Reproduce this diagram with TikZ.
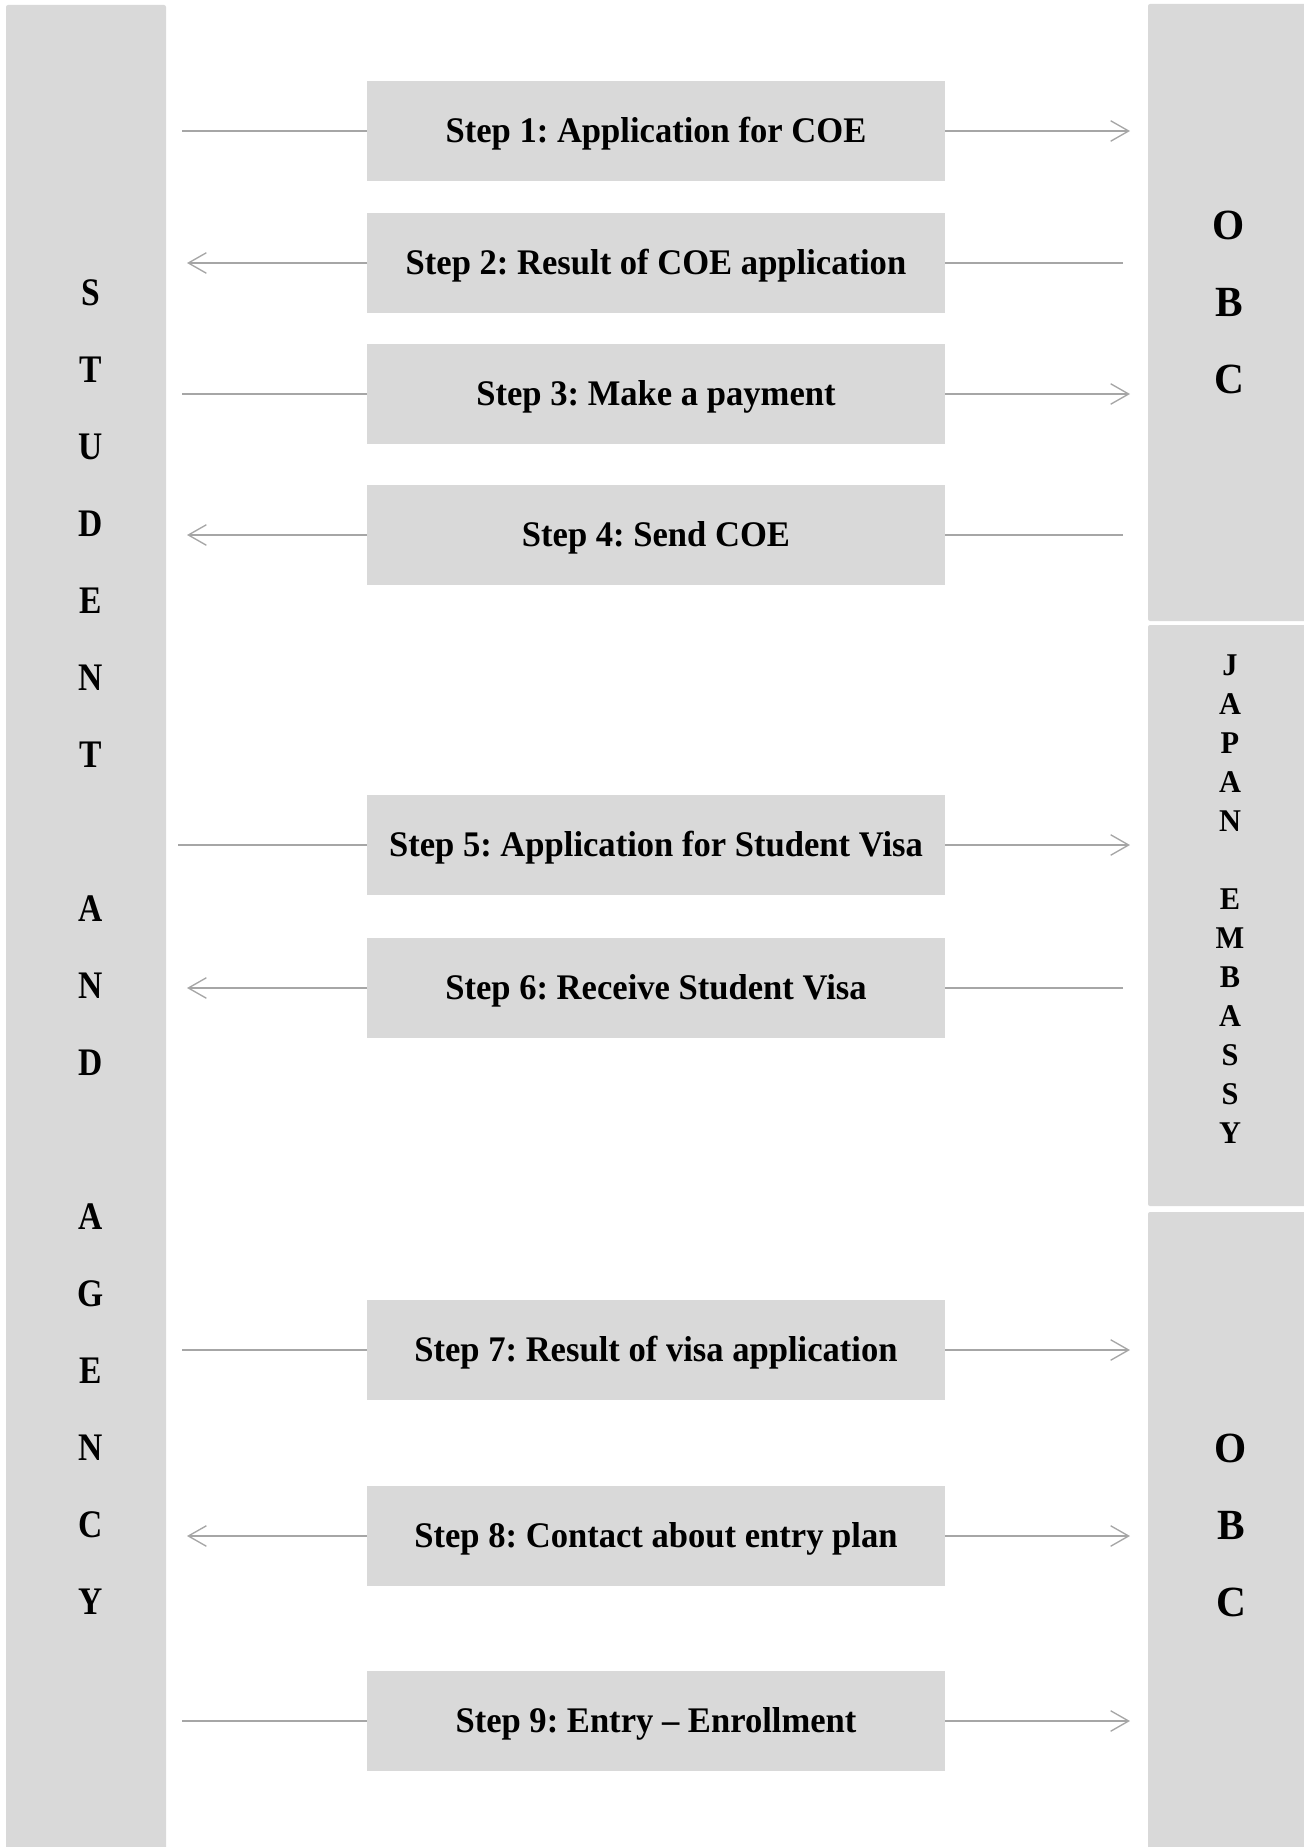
\documentclass[tikz,border=0pt]{standalone}
\usepackage{fontspec}
\setmainfont{Liberation Serif}
\newfontfamily\condfont[Ligatures=TeX,FakeStretch=0.96]{Liberation Serif}
\newfontfamily\sidefont[FakeStretch=0.86]{Liberation Serif}
\usetikzlibrary{arrows.meta,positioning}
\definecolor{boxgray}{HTML}{D9D9D9}
\definecolor{linegray}{HTML}{A6A6A6}
\frenchspacing
\begin{document}
\begin{tikzpicture}[x=0.2mm,y=-0.2mm,every node/.style={inner sep=0pt,outer sep=0pt},
  col/.style={fill=boxgray,rounded corners=0.4mm,minimum width=32mm,anchor=north west},
  stepbox/.style={fill=boxgray,minimum width=115.6mm,minimum height=20mm,text height=4.77mm,text depth=0mm,
    font=\condfont\bfseries\fontsize{20.5pt}{24pt}\selectfont},
  sidetext/.style={align=center,font=\sidefont\bfseries\fontsize{22.2pt}{43.8pt}\selectfont},
  obctext/.style={align=center,font=\condfont\bfseries\fontsize{24.5pt}{43.8pt}\selectfont},
  embtext/.style={align=center,font=\condfont\bfseries\fontsize{18pt}{22.2pt}\selectfont},
  line/.style={draw=linegray,line width=0.27mm},
  arr/.style={line,-{Straight Barb[length=3.6mm,width=4.1mm]}}]
\useasboundingbox (0,0) rectangle (1303,1847);
% side columns
\node[col,minimum height=377mm] (stu) at (6,5) {};
\node[col,minimum height=123.4mm] (obc1) at (1148,4) {};
\node[col,minimum height=116.2mm] (emb) at (1148,625) {};
\node[col,minimum height=135.6mm] (obc2) at (1148,1212) {};
\node[sidetext] (stutxt) at (91,947) {S\\T\\U\\D\\E\\N\\T\\[43.8pt]A\\N\\D\\[43.8pt]A\\G\\E\\N\\C\\Y};
\node[obctext] (obc1txt) at (1229,302) {O\\B\\C};
\node[embtext] (embtxt) at (1230,899) {J\\A\\P\\A\\N\\[22.2pt]E\\M\\B\\A\\S\\S\\Y};
\node[obctext] (obc2txt) at (1231,1525) {O\\B\\C};
% steps
\node[stepbox] (s1) at (656,131) {Step 1: Application for COE};
\node[stepbox] (s2) at (656,263) {Step 2: Result of COE application};
\node[stepbox] (s3) at (656,394) {Step 3: Make a payment};
\node[stepbox] (s4) at (656,535) {Step 4: Send COE};
\node[stepbox] (s5) at (656,845) {Step 5: Application for Student Visa};
\node[stepbox] (s6) at (656,988) {Step 6: Receive Student Visa};
\node[stepbox] (s7) at (656,1350) {Step 7: Result of visa application};
\node[stepbox] (s8) at (656,1536) {Step 8: Contact about entry plan};
\node[stepbox] (s9) at (656,1721) {Step 9: Entry -- Enrollment};
% connectors
\draw[line,shorten <=3.2mm] (s1.west -| stu.east)--(s1.west);
\draw[arr,shorten >=3.6mm] (s1.east)--(s1.east -| obc1.west);
\draw[arr,shorten >=4.2mm] (s2.west)--(s2.west -| stu.east);
\draw[line,shorten <=5mm] (s2.east -| obc1.west)--(s2.east);
\draw[line,shorten <=3.2mm] (s3.west -| stu.east)--(s3.west);
\draw[arr,shorten >=3.6mm] (s3.east)--(s3.east -| obc1.west);
\draw[arr,shorten >=4.2mm] (s4.west)--(s4.west -| stu.east);
\draw[line,shorten <=5mm] (s4.east -| obc1.west)--(s4.east);
\draw[line,shorten <=2.4mm] (s5.west -| stu.east)--(s5.west);
\draw[arr,shorten >=3.6mm] (s5.east)--(s5.east -| emb.west);
\draw[arr,shorten >=4.2mm] (s6.west)--(s6.west -| stu.east);
\draw[line,shorten <=5mm] (s6.east -| emb.west)--(s6.east);
\draw[line,shorten <=3.2mm] (s7.west -| stu.east)--(s7.west);
\draw[arr,shorten >=3.6mm] (s7.east)--(s7.east -| obc2.west);
\draw[arr,shorten >=4.2mm] (s8.west)--(s8.west -| stu.east);
\draw[arr,shorten >=3.6mm] (s8.east)--(s8.east -| obc2.west);
\draw[line,shorten <=3.2mm] (s9.west -| stu.east)--(s9.west);
\draw[arr,shorten >=3.6mm] (s9.east)--(s9.east -| obc2.west);
\end{tikzpicture}
\end{document}
